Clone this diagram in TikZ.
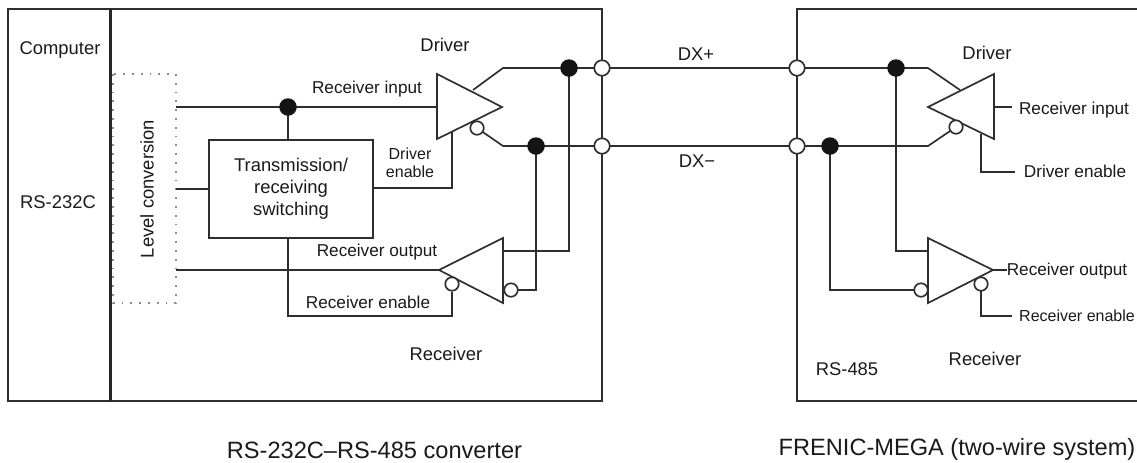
\documentclass[tikz,border=0pt]{standalone}
\usepackage{fontspec}
\setmainfont{Liberation Sans}
\usetikzlibrary{backgrounds,calc}
\definecolor{ln}{HTML}{2E2E2E}
\definecolor{tx}{HTML}{1A1A1A}
\tikzset{
  lbl/.style={inner sep=0pt,text=tx,font=\fontsize{13.8}{16.5}\selectfont},
  lblm/.style={inner sep=0pt,text=tx,font=\fontsize{12.9}{15}\selectfont},
  lbls/.style={inner sep=0pt,text=tx,font=\fontsize{12}{13.5}\selectfont},
  captionlbl/.style={inner sep=0pt,text=tx,font=\fontsize{17.7}{20}\selectfont},
  wire/.style={draw=ln,line width=1.25pt,line join=miter},
  frame/.style={draw=ln,line width=1.25pt},
  heavy/.style={draw=black!85,line width=2pt},
  gate/.style={draw=ln,line width=1.25pt,line join=miter},
  dot/.style={circle,fill=black!92,draw=none,inner sep=0pt,minimum size=17.5pt*0.75},
  port/.style={circle,fill=white,draw=ln,line width=1.25pt,inner sep=0pt,minimum size=15.5pt*0.75},
  inv/.style={circle,fill=white,draw=ln,line width=1.25pt,inner sep=0pt,minimum size=13.5pt*0.75},
  sw/.style={draw=ln,line width=1.25pt,rectangle,inner sep=0pt,minimum width=164*0.75pt,minimum height=98*0.75pt,align=center,text=tx,font=\fontsize{13.8}{16.5}\selectfont},
}
\begin{document}
\begin{tikzpicture}[x=0.75pt,y=-0.75pt]
\useasboundingbox (0,0) rectangle (1137,462);
% ---- frames
\coordinate (FL) at (8,9); \coordinate (FR) at (602,401);
\coordinate (DT) at (110.5,9); \coordinate (DB) at (110.5,401);
\coordinate (RT) at (797,9); \coordinate (RB) at (797,401); \coordinate (RE) at (1137,9); \coordinate (RF) at (1137,401);
% ---- level conversion
\coordinate (LA) at (113,74); \coordinate (LB) at (176,303);
\coordinate (L1) at (176,107); \coordinate (L2) at (176,189); \coordinate (L3) at (176,270);
% ---- switch
\node[sw] (sw) at (291,189) {Transmission/\\receiving\\switching};
% ---- left driver
\coordinate (d1a) at (437,74); \coordinate (d1b) at (437,139); \coordinate (d1t) at (502,107);
\coordinate (d1i) at (437,107); \coordinate (d1o) at (473,90); \coordinate (d1k) at (503,68);
\coordinate (d1k2) at (503,146); \coordinate (d1e) at (452,132); \coordinate (d1c) at (452,188);
\coordinate (sw1) at (373,188);
\node[inv] (d1n) at (477,128) {};
% ---- left receiver
\coordinate (r1t) at (439,270); \coordinate (r1a) at (503,238); \coordinate (r1b) at (503,303);
\coordinate (r1i) at (503,251);
\node[inv] (r1n) at (452,284) {};
\node[inv] (r1m) at (511,290) {};
\coordinate (r1c) at (452,316); \coordinate (sw2) at (288,238); \coordinate (sw3) at (288,316);
\coordinate (sw4) at (288,140); \coordinate (sw5) at (209,189);
% ---- right driver
\coordinate (d2t) at (928,107); \coordinate (d2a) at (994,74); \coordinate (d2b) at (994,139);
\coordinate (d2k) at (928,68); \coordinate (d2o) at (960,90); \coordinate (d2k2) at (928,146);
\coordinate (d2i) at (994,107); \coordinate (d2f) at (1012,107);
\coordinate (d2e) at (981,134); \coordinate (d2c) at (981,172); \coordinate (d2g) at (1015,172);
\node[inv] (d2n) at (956,127) {};
% ---- right receiver
\coordinate (r2a) at (928,238); \coordinate (r2b) at (928,303); \coordinate (r2t) at (993,270);
\coordinate (r2f) at (1007,270); \coordinate (r2c) at (981,316); \coordinate (r2g) at (1012,316);
\coordinate (r2k) at (896,251); \coordinate (r2i) at (928,251); \coordinate (r2j) at (830,290);
\node[inv] (r2m) at (921,290) {};
\node[inv] (r2n) at (981,284) {};
% ---- junctions and ports
\node[dot] (j1) at (288,107) {};
\node[dot] (j2) at (569,68) {};
\node[dot] (j3) at (536,146) {};
\node[dot] (j4) at (896,68) {};
\node[dot] (j5) at (830,146) {};
\node[port] (p1) at (602,68) {};
\node[port] (p2) at (602,146) {};
\node[port] (p3) at (797,68) {};
\node[port] (p4) at (797,146) {};
\coordinate (c1) at (569,251); \coordinate (c2) at (536,290);
\begin{scope}[on background layer]
  \fill[white] (0,0) rectangle (1137,462);
  % frames
  \draw[frame] (FL) rectangle (FR);
  \draw[heavy] (DT) -- (DB);
  \draw[frame] (RF) -- (RB) -- (RT) -- (RE);
  % dotted block
  \draw[draw=black!45,line width=1.3pt,dash pattern=on 1.3pt off 5.3pt] (LA) rectangle (LB);
  % left wires
  \draw[wire] (L1) -- (j1.center) -- (d1i);
  \draw[wire] (j1.center) -- (sw4);
  \draw[wire] (L2) -- (sw5);
  \draw[wire] (sw1) -- (d1c) -- (d1e);
  \draw[wire] (L3) -- (r1t);
  \draw[wire] (sw2) -- (sw3) -- (r1c) -- (r1n.south);
  \draw[wire] (d1o) -- (d1k) -- (j2.center) -- (p1.center);
  \draw[wire] (d1n.center) -- (d1k2) -- (j3.center) -- (p2.center);
  \draw[wire] (r1i) -- (c1) -- (j2.center);
  \draw[wire] (r1m.center) -- (c2) -- (j3.center);
  % bus
  \draw[wire] (p1.center) -- (p3.center);
  \draw[wire] (p2.center) -- (p4.center);
  % right wires
  \draw[wire] (p3.center) -- (j4.center) -- (d2k) -- (d2o);
  \draw[wire] (p4.center) -- (j5.center) -- (d2k2) -- (d2n.center);
  \draw[wire] (j4.center) -- (r2k) -- (r2i);
  \draw[wire] (j5.center) -- (r2j) -- (r2m.center);
  \draw[wire] (d2i) -- (d2f);
  \draw[wire] (d2e) -- (d2c) -- (d2g);
  \draw[wire] (r2t) -- (r2f);
  \draw[wire] (r2n.center) -- (r2c) -- (r2g);
  % gates
  \draw[gate] (d1a) -- (d1b) -- (d1t) -- cycle;
  \draw[gate] (r1t) -- (r1a) -- (r1b) -- cycle;
  \draw[gate] (d2t) -- (d2a) -- (d2b) -- cycle;
  \draw[gate] (r2a) -- (r2b) -- (r2t) -- cycle;
\end{scope}
% ---- labels
\node[lbl] (t1) at (60,50) {Computer};
\node[lbl] (t2) at (58,202) {RS-232C};
\node[lbl,rotate=90] (t3) at (147,189) {Level conversion};
\node[lbl] (t4) at (445,45) {Driver};
\node[lblm] (t5) at (367,89) {Receiver input};
\node[lbls,align=center] (t6) at (410,163) {Driver\\enable};
\node[lblm] (t7) at (377,252) {Receiver output};
\node[lblm] (t8) at (368,302) {Receiver enable};
\node[lbl] (t9) at (446,354) {Receiver};
\node[lbl] (t10) at (987,53) {Driver};
\node[lblm] (t11) at (1074,110) {Receiver input};
\node[lblm] (t12) at (1075,171) {Driver enable};
\node[lblm] (t13) at (1067,271) {Receiver output};
\node[lbls] (t14) at (1077,316) {Receiver enable};
\node[lbl] (t15) at (985,359) {Receiver};
\node[lbl] (t16) at (847,369) {RS-485};
\node[lbl] (t17) at (696,54) {DX+};
\node[lbl] (t18) at (697,161) {DX−};
\node[captionlbl] (t19) at (374.5,450) {RS-232C–RS-485 converter};
\node[captionlbl] (t20) at (957,449) {FRENIC-MEGA (two-wire system)};
\end{tikzpicture}
\end{document}
